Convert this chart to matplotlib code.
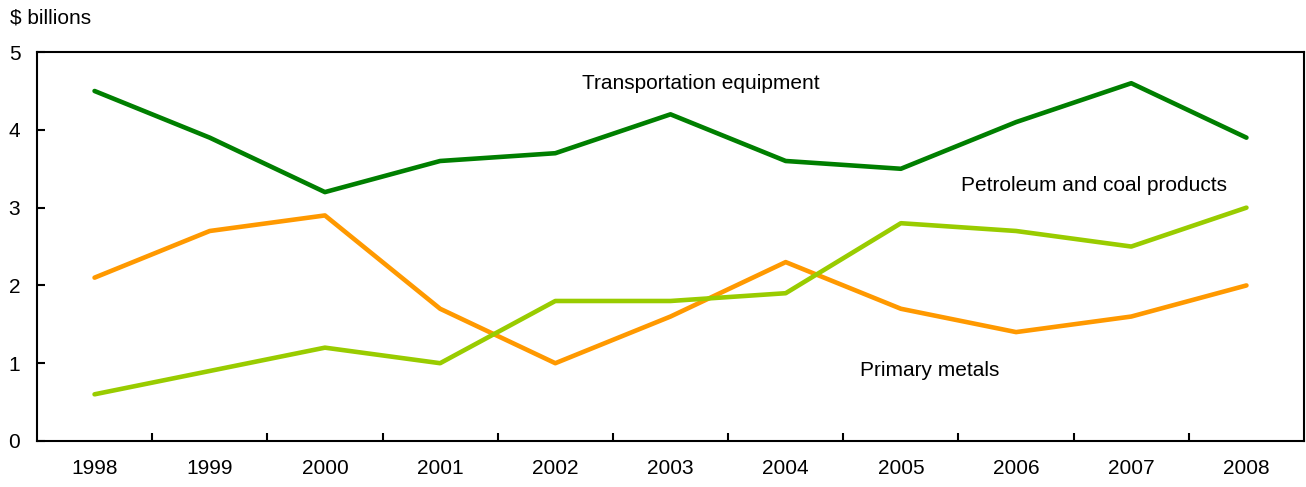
import matplotlib.pyplot as plt
import numpy as np

plt.rcParams['font.family'] = ['Liberation Sans', 'DejaVu Sans']

years = ['1998', '1999', '2000', '2001', '2002', '2003', '2004', '2005', '2006', '2007', '2008']
transport = [4.5, 3.9, 3.2, 3.6, 3.7, 4.2, 3.6, 3.5, 4.1, 4.6, 3.9]
metals = [2.1, 2.7, 2.9, 1.7, 1.0, 1.6, 2.3, 1.7, 1.4, 1.6, 2.0]
petroleum = [0.6, 0.9, 1.2, 1.0, 1.8, 1.8, 1.9, 2.8, 2.7, 2.5, 3.0]

x = np.arange(len(years))

fig = plt.figure(figsize=(13.06, 4.87), dpi=100)
ax = fig.add_axes([0.0283, 0.0945, 0.9702, 0.7985])

lw = 3.3
ax.plot(x, transport, color='#007f00', lw=lw, solid_capstyle='round')
ax.plot(x, metals, color='#ff9900', lw=lw, solid_capstyle='round')
ax.plot(x, petroleum, color='#99cc00', lw=lw, solid_capstyle='round')

ax.text(5.26, 4.59, 'Transportation equipment', ha='center', va='center', fontsize=15)
ax.text(8.68, 3.28, 'Petroleum and coal products', ha='center', va='center', fontsize=15)
ax.text(7.25, 0.90, 'Primary metals', ha='center', va='center', fontsize=15)
fig.text(0.008, 0.963, '$ billions', ha='left', va='center', fontsize=15)

ax.set_xlim(-0.5, len(years) - 0.5)
ax.set_ylim(0, 5)
ax.set_yticks([0, 1, 2, 3, 4, 5])
ax.set_xticks(x)
ax.set_xticklabels(years)
ax.set_xticks(x[:-1] + 0.5, minor=True)

ax.tick_params(axis='x', which='major', length=0, pad=13, labelsize=15)
ax.tick_params(axis='x', which='minor', direction='in', length=6, width=1.5)
ax.tick_params(axis='y', direction='in', length=6, width=1.5, pad=12, labelsize=15)

for s in ax.spines.values():
    s.set_linewidth(1.5)

fig.savefig('out.png', dpi=100)
